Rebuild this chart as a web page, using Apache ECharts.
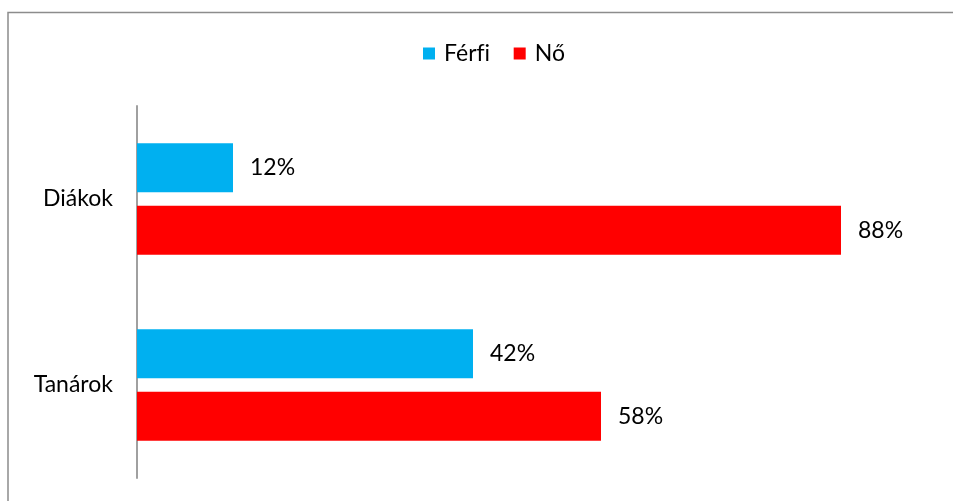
<!DOCTYPE html>
<html>
<head>
<meta charset="utf-8">
<script src="https://cdn.jsdelivr.net/npm/echarts@6/dist/echarts.min.js"></script>
<style>
  html, body { margin: 0; padding: 0; background: #fff; }
  #chart { width: 953px; height: 501px; font-variant-ligatures: none; }
</style>
</head>
<body>
<div id="chart"></div>
<script>
var categories = ['Diákok', 'Tanárok'];
var seriesNames = ['Férfi', 'Nő'];
var ferfiValues = [12, 42];
var noValues = [88, 58];

var myChart = echarts.init(document.getElementById('chart'));
var fontName = 'Lato, Carlito, sans-serif';

var option = {
    animation: false,
    color: ['#00B0F0', '#FF0000'],
    graphic: [{
        type: 'rect',
        shape: {x: 8, y: 12.5, width: 1000, height: 600},
        style: {fill: 'none', stroke: '#8c8c8c', lineWidth: 1.5},
        silent: true
    }],
    legend: {
        data: seriesNames,
        top: 37,
        left: 418,
        icon: 'rect',
        itemWidth: 12,
        itemHeight: 12,
        itemGap: 24,
        textStyle: {fontFamily: fontName, fontSize: 23, color: '#000', padding: [0, 0, 0, 4]}
    },
    grid: {
        left: 137,
        right: 16,
        top: 106,
        bottom: 23,
        containLabel: false
    },
    xAxis: {
        type: 'value',
        min: 0,
        max: 100,
        show: false
    },
    yAxis: {
        type: 'category',
        data: categories,
        inverse: true,
        axisLine: {show: true, lineStyle: {color: '#a0a0a0', width: 2}},
        axisTick: {show: false},
        axisLabel: {fontFamily: fontName, fontSize: 23, color: '#000', margin: 24}
    },
    series: [{
        name: seriesNames[0],
        type: 'bar',
        data: ferfiValues,
        barWidth: 49,
        barGap: '28%',
        label: {
            show: true,
            position: 'right',
            distance: 17,
            formatter: '{c}%',
            fontFamily: fontName,
            fontSize: 23,
            color: '#000'
        }
    }, {
        name: seriesNames[1],
        type: 'bar',
        data: noValues,
        barWidth: 49,
        barGap: '28%',
        label: {
            show: true,
            position: 'right',
            distance: 17,
            formatter: '{c}%',
            fontFamily: fontName,
            fontSize: 23,
            color: '#000'
        }
    }]
};

myChart.setOption(option);
</script>
</body>
</html>
